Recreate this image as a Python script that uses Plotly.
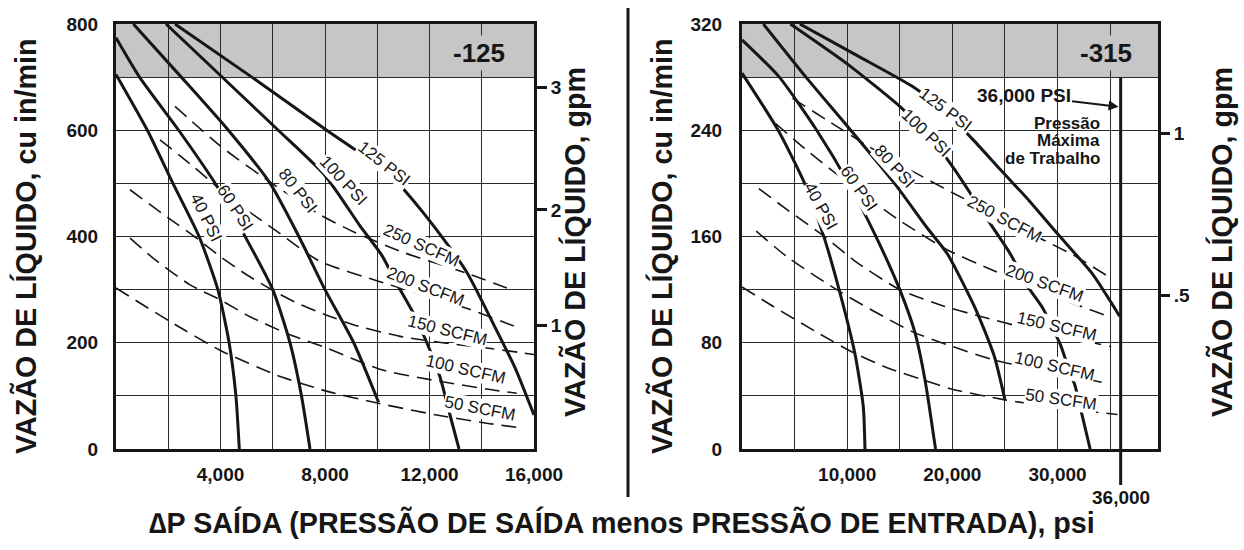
import plotly.graph_objects as go

W, H = 1244, 550

# ---------------- DATA ----------------
# Left chart (-125): x = delta P psi (0..16000), y = cu in/min (0..800)
L40_x = [0, 1200, 2180, 3180, 3900, 4330, 4590, 4720]
L40_y = [705, 600, 500, 400, 300, 200, 100, 0]
L60_x = [0, 900, 2400, 3900, 4810, 6000, 6660, 7100, 7426]
L60_y = [774, 700, 600, 492, 412, 300, 200, 100, 0]
L80_x = [663, 2500, 4300, 5900, 7000, 8000, 9100, 10050]
L80_y = [800, 700, 600, 500, 400, 300, 200, 88]
L100_x = [1914, 4000, 6212, 8000, 9340, 10170, 10810, 11380, 11830, 12400, 12785, 13130]
L100_y = [800, 703, 600, 515, 420, 365, 306, 256, 208, 136, 64, 0]
L125_x = [2258, 5200, 8065, 10500, 12000, 13400, 14500, 15300, 16000]
L125_y = [800, 700, 600, 515, 430, 335, 230, 150, 64]

L50s_x = [0, 2067, 3980, 6150, 8128, 10040, 12276, 14000, 15450]
L50s_y = [303, 240, 186, 139, 108, 86, 64, 50, 40]
L100s_x = [536, 1430, 2833, 3980, 5130, 6660, 8065, 10100, 12085, 14440, 15340]
L100s_y = [397, 359, 309, 281, 249, 215, 190, 150, 130, 111, 105]
L150s_x = [536, 2000, 3000, 4000, 5000, 6022, 7000, 8065, 9085, 10870, 12500, 14190, 16000]
L150s_y = [488, 435, 400, 362, 328, 298, 273, 252, 234, 212, 200, 190, 178]
L200s_x = [1684, 3000, 4000, 5000, 6150, 7810, 10106, 13420, 15465]
L200s_y = [582, 530, 488, 450, 410, 353, 315, 265, 227]
L250s_x = [2258, 4000, 6060, 7810, 9085, 11000, 13420, 14960]
L250s_y = [645, 570, 497, 441, 409, 370, 331, 303]

# Right chart (-315): x = delta P psi (0..~39550), y = cu in/min (0..320)
R40_x = [0, 3440, 5955, 7700, 9300, 10730, 11530, 11690]
R40_y = [283, 240, 200, 162, 118, 72, 32, 0]
R60_x = [0, 3550, 7100, 10140, 12670, 15000, 16430, 17400, 18400]
R60_y = [308, 280, 240, 200, 161, 120, 88, 52, 0]
R80_x = [2030, 6080, 10340, 14500, 17650, 19520, 22230, 23980, 25000]
R80_y = [320, 280, 240, 200, 166, 147, 105, 70, 37]
R100_x = [4600, 10000, 15000, 18000, 20250, 22000, 24000, 25500, 27200, 28600, 29600, 30300, 31150, 31650, 32200, 33100]
R100_y = [320, 290, 258, 234, 210, 189, 165, 147, 122, 106, 90, 78, 58, 48, 30, 0]
R125_x = [5500, 11000, 16400, 19300, 22070, 24600, 27300, 30000, 33300, 35900]
R125_y = [320, 296, 272, 254, 232, 210, 187, 162, 132, 100]

R50s_x = [0, 3040, 7100, 10470, 13850, 17230, 20000, 25000, 30000, 35700]
R50s_y = [122, 107, 88, 73, 61, 52, 45, 37, 31, 26]
R100s_x = [1350, 4400, 9400, 16300, 24000, 30000, 35000]
R100s_y = [164, 144, 118, 88, 67, 57, 49]
R150s_x = [1600, 4500, 7500, 11000, 15000, 19000, 22600, 27000, 31000, 35100]
R150s_y = [196, 179, 162, 140, 120, 108, 100, 91, 84, 77]
R200s_x = [3200, 6000, 9000, 12000, 15000, 19500, 24000, 29000, 34800]
R200s_y = [245, 226, 207, 189, 172, 150, 134, 117, 100]
R250s_x = [4800, 8000, 12000, 16000, 20000, 24000, 28000, 31500, 34600]
R250s_y = [264, 248, 228, 210, 193, 177, 160, 146, 131]

max_pressure_R = 36000

# Axis ticks
L_xtick_vals = [0, 2000, 4000, 6000, 8000, 10000, 12000, 14000, 16000]
L_xtick_text = ["", "", "4,000", "", "8,000", "", "12,000", "", "16,000"]
L_ytick_vals = [0, 100, 200, 300, 400, 500, 600, 700, 800]
L_ytick_text = ["0", "", "200", "", "400", "", "600", "", "800"]
R_xtick_vals = [0, 5000, 10000, 15000, 20000, 25000, 30000, 35000]
R_xtick_text = ["", "", "10,000", "", "20,000", "", "30,000", ""]
R_ytick_vals = [0, 40, 80, 120, 160, 200, 240, 280, 320]
R_ytick_text = ["0", "", "80", "", "160", "", "240", "", "320"]
# gpm ticks (positions expressed in cu in/min)
L_gpm_pos = [232, 450, 681]
L_gpm_text = ["1", "2", "3"]
R_gpm_pos = [115.5, 237.9]
R_gpm_text = [".5", "1"]

# Curve labels: text, x, y, angle
L_labels = [("40 PSI", 3432, 435, 64), ("60 PSI", 4555, 455, 57), ("80 PSI", 6940, 486, 52),
            ("100 PSI", 8700, 505, 47), ("125 PSI", 10260, 538, 38),
            ("250 SCFM", 11700, 384, 24), ("200 SCFM", 11830, 306, 21), ("150 SCFM", 12680, 224, 14),
            ("100 SCFM", 13390, 149, 13), ("50 SCFM", 13930, 76, 11)]
R_labels = [("40 PSI", 7500, 182.6, 61), ("60 PSI", 11100, 196, 55), ("80 PSI", 14500, 212.7, 48),
            ("100 PSI", 17570, 237.9, 44), ("125 PSI", 19330, 255.4, 37),
            ("250 SCFM", 25000, 173, 28), ("200 SCFM", 28800, 124.8, 20), ("150 SCFM", 29900, 91.9, 13),
            ("100 SCFM", 29740, 62.0, 13), ("50 SCFM", 30340, 36.9, 8)]

# ---------------- FIGURE ----------------
FONT = "Liberation Sans, Arial, Helvetica, sans-serif"
INK = "#161616"
fig = go.Figure()

def solid(x, y, xa, ya):
    fig.add_trace(go.Scatter(x=x, y=y, xaxis=xa, yaxis=ya, mode="lines",
                             line=dict(color=INK, width=3, shape="spline", smoothing=0.6),
                             hoverinfo="skip", showlegend=False))

def dashed(x, y, xa, ya):
    fig.add_trace(go.Scatter(x=x, y=y, xaxis=xa, yaxis=ya, mode="lines",
                             line=dict(color=INK, width=1.6, dash="15px,8px", shape="spline", smoothing=0.6),
                             hoverinfo="skip", showlegend=False))

for xs, ys in [(L40_x, L40_y), (L60_x, L60_y), (L80_x, L80_y), (L100_x, L100_y), (L125_x, L125_y)]:
    solid(xs, ys, "x", "y")
for xs, ys in [(L50s_x, L50s_y), (L100s_x, L100s_y), (L150s_x, L150s_y), (L200s_x, L200s_y), (L250s_x, L250s_y)]:
    dashed(xs, ys, "x", "y")
for xs, ys in [(R40_x, R40_y), (R60_x, R60_y), (R80_x, R80_y), (R100_x, R100_y), (R125_x, R125_y)]:
    solid(xs, ys, "x2", "y2")
for xs, ys in [(R50s_x, R50s_y), (R100s_x, R100s_y), (R150s_x, R150s_y), (R200s_x, R200s_y), (R250s_x, R250s_y)]:
    dashed(xs, ys, "x2", "y2")

# invisible traces so gpm axes render
fig.add_trace(go.Scatter(x=[0], y=[0], xaxis="x", yaxis="y3", mode="markers",
                         marker=dict(opacity=0), hoverinfo="skip", showlegend=False))
fig.add_trace(go.Scatter(x=[0], y=[0], xaxis="x2", yaxis="y4", mode="markers",
                         marker=dict(opacity=0), hoverinfo="skip", showlegend=False))

def px_x(p):
    return p / W

def px_y(p):
    return 1 - p / H

R_X0, R_X1 = 742, 1158  # right plot area (px)
R_RANGE = 39550

TICKFONT = dict(family=FONT, size=19, color=INK, weight="bold")
common_axis = dict(showgrid=True, gridcolor="#2a2a2a", gridwidth=1, showline=True, linewidth=3,
                   linecolor=INK, mirror=True, ticks="", zeroline=False, tickfont=TICKFONT,
                   fixedrange=True, automargin=False)

layout = dict(
    width=W, height=H, margin=dict(l=0, r=0, t=0, b=0, pad=0, autoexpand=False),
    paper_bgcolor="white", plot_bgcolor="white", showlegend=False,
    font=dict(family=FONT, color=INK),
    xaxis=dict(domain=[px_x(116), px_x(534)], range=[0, 16000], anchor="y",
               tickmode="array", tickvals=L_xtick_vals, ticktext=L_xtick_text,
               ticklabelstandoff=6, **common_axis),
    yaxis=dict(domain=[px_y(449), px_y(24)], range=[0, 800], anchor="x",
               tickmode="array", tickvals=L_ytick_vals, ticktext=L_ytick_text,
               ticklabelstandoff=11, **common_axis),
    xaxis2=dict(domain=[px_x(R_X0), px_x(R_X1)], range=[0, R_RANGE], anchor="y2",
                tickmode="array", tickvals=R_xtick_vals, ticktext=R_xtick_text,
                ticklabelstandoff=6, **common_axis),
    yaxis2=dict(domain=[px_y(449), px_y(24)], range=[0, 320], anchor="x2",
                tickmode="array", tickvals=R_ytick_vals, ticktext=R_ytick_text,
                ticklabelstandoff=13, **common_axis),
    yaxis3=dict(overlaying="y", anchor="x", side="right", range=[0, 800], showgrid=False,
                zeroline=False, showline=False, tickmode="array", tickvals=L_gpm_pos,
                ticktext=L_gpm_text, ticks="outside", ticklen=12, tickwidth=3, tickcolor=INK,
                tickfont=TICKFONT, fixedrange=True, automargin=False),
    yaxis4=dict(overlaying="y2", anchor="x2", side="right", range=[0, 320], showgrid=False,
                zeroline=False, showline=False, tickmode="array", tickvals=R_gpm_pos,
                ticktext=R_gpm_text, ticks="outside", ticklen=11, tickwidth=3, tickcolor=INK,
                tickfont=TICKFONT, fixedrange=True, automargin=False),
)
fig.update_layout(**layout)

GRAY = "#c6c6c6"
shapes = [
    dict(type="rect", xref="x", yref="y", x0=0, x1=16000, y0=700, y1=800,
         fillcolor=GRAY, line=dict(width=0), layer="below"),
    dict(type="rect", xref="x2", yref="y2", x0=0, x1=R_RANGE, y0=280, y1=320,
         fillcolor=GRAY, line=dict(width=0), layer="below"),
    # max working pressure line
    dict(type="line", xref="x2", yref="paper", x0=max_pressure_R, x1=max_pressure_R,
         y0=px_y(485), y1=px_y(77.3), line=dict(color=INK, width=3), layer="above"),
    # separator
    dict(type="line", xref="paper", yref="paper", x0=px_x(628), x1=px_x(628),
         y0=px_y(497), y1=px_y(8), line=dict(color=INK, width=3)),
]
fig.update_layout(shapes=shapes)

ann = []
LABELFONT = dict(family=FONT, size=17, color=INK)
for txt, x, y, ang in L_labels:
    ann.append(dict(text=txt, x=x, y=y, xref="x", yref="y", showarrow=False, textangle=ang,
                    xanchor="center", yanchor="middle",
                    font=LABELFONT, bgcolor="white", borderpad=0))
for txt, x, y, ang in R_labels:
    ann.append(dict(text=txt, x=x, y=y, xref="x2", yref="y2", showarrow=False, textangle=ang,
                    xanchor="center", yanchor="middle",
                    font=LABELFONT, bgcolor="white", borderpad=0))

def pann(text, x, y, font, angle=0, **kw):
    d = dict(text=text, x=px_x(x), y=px_y(y), xref="paper", yref="paper", showarrow=False,
             textangle=angle, font=font, xanchor="center", yanchor="middle")
    d.update(kw)
    ann.append(d)

BIG = dict(family=FONT, size=26, color=INK, weight="bold")
pann("-125", 479, 52.5, BIG, bgcolor=GRAY, borderpad=2)
pann("-315", 1106, 52.5, BIG, bgcolor=GRAY, borderpad=2)

TITLEFONT = dict(family=FONT, size=28.7, color=INK, weight="bold")
pann("VAZÃO DE LÍQUIDO, cu in/min", 25, 247, TITLEFONT, angle=-90)
pann("VAZÃO DE LÍQUIDO, gpm", 575, 242, TITLEFONT, angle=-90)
pann("VAZÃO DE LÍQUIDO, cu in/min", 661, 247, TITLEFONT, angle=-90)
pann("VAZÃO DE LÍQUIDO, gpm", 1222, 242, TITLEFONT, angle=-90)
pann("∆P SAÍDA (PRESSÃO DE SAÍDA menos PRESSÃO DE ENTRADA), psi", 622, 522, TITLEFONT)

# 36,000 annotations
ann.append(dict(text="36,000", x=max_pressure_R, y=px_y(497), xref="x2", yref="paper",
                xanchor="center", yanchor="middle", showarrow=False, font=TICKFONT))
ann.append(dict(text="36,000 PSI", x=35800, y=257.7, xref="x2", yref="y2", ax=-95, ay=-11,
                showarrow=True, arrowhead=2, arrowsize=1, arrowwidth=2, arrowcolor=INK,
                font=dict(family=FONT, size=19, color=INK, weight="bold")))
SMALLB = dict(family=FONT, size=17, color=INK, weight="bold")
pann("Pressão", 1102, 123, SMALLB, xanchor="right")
pann("Máxima", 1102, 140.5, SMALLB, xanchor="right")
pann("de Trabalho", 1102, 158, SMALLB, xanchor="right")
fig.update_layout(annotations=ann)

fig.write_html("out.html", config={"displayModeBar": False},
               post_script="document.body.style.margin='0px';document.body.style.overflow='hidden';")
